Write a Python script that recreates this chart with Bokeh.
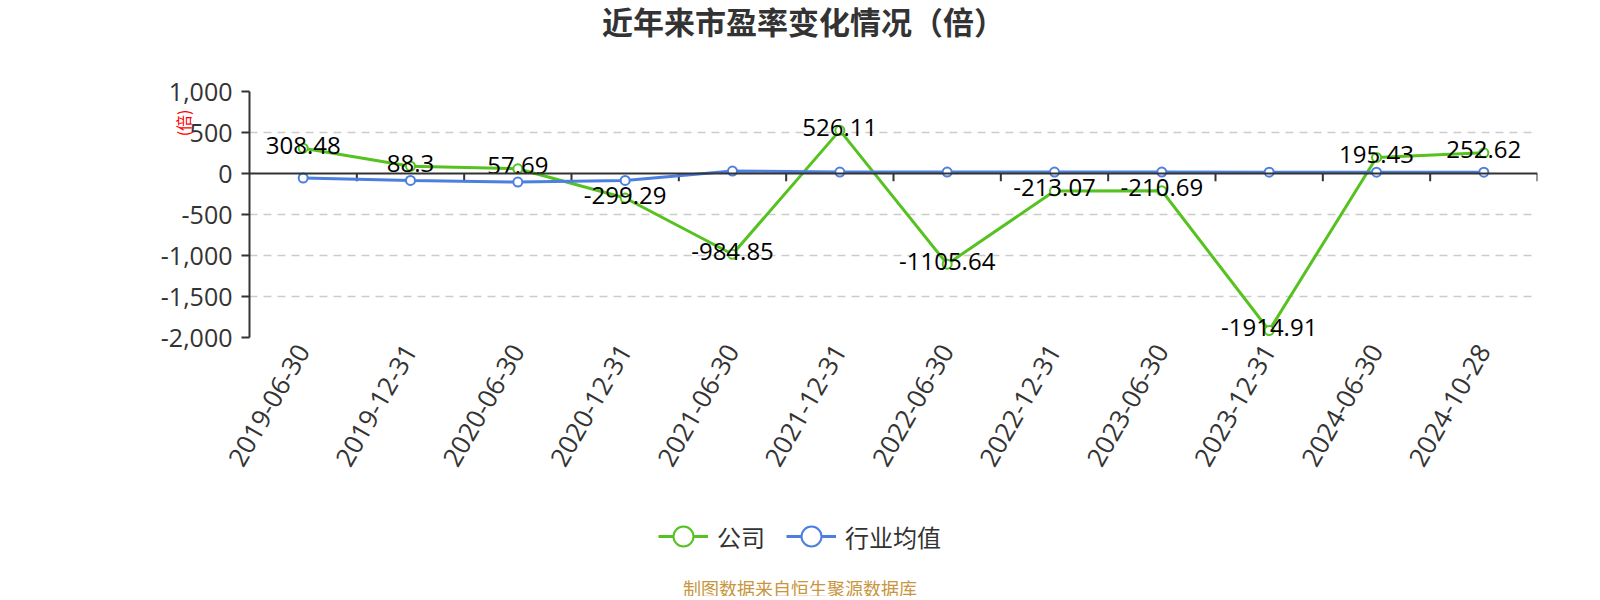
import math
from bokeh.plotting import figure
from bokeh.layouts import column
from bokeh.models import (Range1d, FixedTicker, NumeralTickFormatter, Span, Title, Label,
                          Legend, LegendItem, ColumnDataSource)
from bokeh.core.properties import value
from bokeh.embed import file_html
from bokeh.resources import INLINE

# ---- data ----
dates = ["2019-06-30", "2019-12-31", "2020-06-30", "2020-12-31", "2021-06-30", "2021-12-31",
         "2022-06-30", "2022-12-31", "2023-06-30", "2023-12-31", "2024-06-30", "2024-10-28"]
company = [308.48, 88.3, 57.69, -299.29, -984.85, 526.11,
           -1105.64, -213.07, -210.69, -1914.91, 195.43, 252.62]
industry = [-55, -85, -105, -85, 30, 18, 18, 18, 18, 16, 16, 16]
company_labels = ["308.48", "88.3", "57.69", "-299.29", "-984.85", "526.11",
                  "-1105.64", "-213.07", "-210.69", "-1914.91", "195.43", "252.62"]
y_ticks = [-2000, -1500, -1000, -500, 0, 500, 1000]

title_text = "近年来市盈率变化情况（倍）"
unit_text = "(倍)"
footer_text = "制图数据来自恒生聚源数据库"
series_names = ["公司", "行业均值"]

GREEN = "#55c21f"
BLUE = "#4c7fe0"
CJK = "Noto Sans CJK SC"
NUM = "Open Sans"
AXIS_COLOR = "#333333"
W = 1596
H_TOP, H_MAIN, H_BOT = 71, 427, 98
LEFT, RIGHT = 249, 59

n = len(dates)
xs = [i + 0.5 for i in range(n)]
bounds = list(range(1, n + 1))


def blank(height):
    f = figure(width=W, height=height, output_backend="svg", toolbar_location=None,
               x_range=Range1d(0, 1), y_range=Range1d(0, 1),
               min_border_left=LEFT, min_border_right=RIGHT, min_border_top=0,
               min_border_bottom=0, x_axis_location=None, y_axis_location=None)
    f.outline_line_color = None
    f.grid.visible = False
    return f


# ---- title strip ----
top = blank(H_TOP)
top.add_layout(Label(x=554, y=H_TOP - 19.7, x_units="screen", y_units="screen", text=title_text,
                     text_align="center", text_baseline="middle", text_font=CJK,
                     text_font_size="31px", text_font_style="bold", text_color=AXIS_COLOR))

# ---- main chart ----
p = figure(width=W, height=H_MAIN, output_backend="svg", toolbar_location=None,
           x_range=Range1d(0, n), y_range=Range1d(-2000, 1000),
           min_border_left=LEFT, min_border_right=RIGHT, min_border_top=20,
           min_border_bottom=H_MAIN - 20 - 246)
p.outline_line_color = None

xa = p.xaxis[0]
xa.ticker = FixedTicker(ticks=xs)
xa.major_label_overrides = {x: d for x, d in zip(xs, dates)}
xa.axis_line_color = None
xa.major_tick_line_color = None
xa.minor_tick_line_color = None
xa.major_label_orientation = math.radians(60)
xa.major_label_text_font = NUM
xa.major_label_text_font_size = "26px"
xa.major_label_text_color = AXIS_COLOR
xa.major_label_standoff = 3

ya = p.yaxis[0]
ya.ticker = FixedTicker(ticks=y_ticks)
ya.formatter = NumeralTickFormatter(format="0,0")
ya.axis_line_color = AXIS_COLOR
ya.axis_line_width = 2
ya.major_tick_line_color = AXIS_COLOR
ya.major_tick_line_width = 2
ya.major_tick_out = 8
ya.major_tick_in = 0
ya.minor_tick_line_color = None
ya.major_label_text_font = NUM
ya.major_label_text_font_size = "25px"
ya.major_label_text_color = AXIS_COLOR
ya.major_label_standoff = 9

p.xgrid.grid_line_color = None
p.ygrid.ticker = FixedTicker(ticks=[t for t in y_ticks if t != 0])
p.ygrid.grid_line_color = "#cccccc"
p.ygrid.grid_line_dash = "8 6"
p.ygrid.grid_line_width = 1.5

p.add_layout(Span(location=0, dimension="width", line_color=AXIS_COLOR, line_width=2))
p.segment(x0=bounds, y0=[0] * n, x1=bounds, y1=[-95] * n, line_color=AXIS_COLOR, line_width=2)

src = ColumnDataSource(dict(x=xs, c=company, ind=industry, lab=company_labels))
p.line("x", "c", source=src, line_color=GREEN, line_width=3)
p.scatter("x", "c", source=src, size=9, marker="circle", fill_color="white",
          line_color=GREEN, line_width=2)
p.line("x", "ind", source=src, line_color=BLUE, line_width=3)
p.scatter("x", "ind", source=src, size=9, marker="circle", fill_color="white",
          line_color=BLUE, line_width=2)
p.text("x", "c", text="lab", source=src, text_align="center", text_baseline="middle",
       y_offset=-3, text_font=value(NUM), text_font_size="24px", text_color="black")

unit = Title(text=unit_text, align="right", offset=18, text_font=CJK,
             text_font_size="16px", text_font_style="normal", text_color="#ff0000")
try:
    unit.standoff = -74
except Exception:
    unit.standoff = 0
p.add_layout(unit, "left")

# ---- legend + footer strip ----
bot = blank(H_BOT)
colors = [GREEN, BLUE]
items = []
for name, col in zip(series_names, colors):
    r_line = bot.line(x=[-100, -90], y=[-100, -100], line_color=col, line_width=3)
    r_pt = bot.scatter(x=[-100], y=[-100], marker="circle", size=10, fill_color="white",
                       line_color=col, line_width=2)
    items.append(LegendItem(label=name, renderers=[r_line, r_pt]))
legend = Legend(items=items, orientation="horizontal", location=(409, 30),
                glyph_width=50, glyph_height=60, label_standoff=9, spacing=21,
                padding=0, margin=0, border_line_color=None, background_fill_alpha=0,
                label_text_font=CJK, label_text_font_size="24px",
                label_text_color=AXIS_COLOR)
bot.add_layout(legend, "center")
bot.add_layout(Label(x=550.5, y=9, x_units="screen", y_units="screen", text=footer_text,
                     text_align="center", text_baseline="middle", text_font=CJK,
                     text_font_size="18px", text_color="#c8963e"))

layout = column(top, p, bot, spacing=0)
open("out.html", "w").write(file_html(layout, INLINE))
